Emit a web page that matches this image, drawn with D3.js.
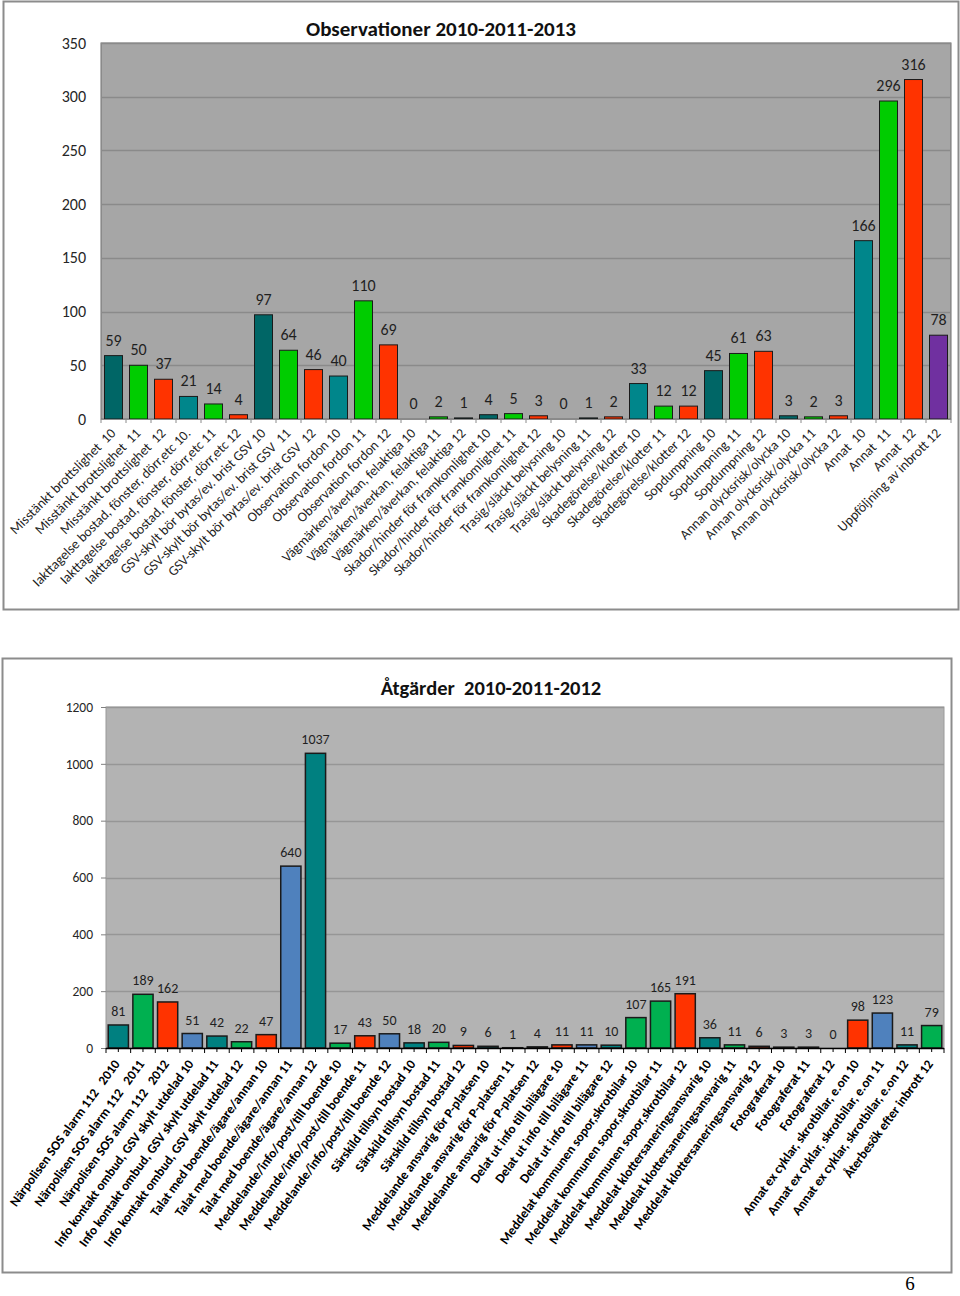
<!DOCTYPE html>
<html>
<head>
<meta charset="utf-8">
<script src="https://cdn.jsdelivr.net/npm/d3@7"></script>
<style>
  html, body { margin: 0; padding: 0; background: #fff; }
  svg { display: block; }
  text { font-family: Carlito, Lato, "Open Sans", sans-serif; white-space: pre; }
</style>
</head>
<body>
<svg id="chart" width="960" height="1296"></svg>
<script>
// ---------- Chart 1: Observationer 2010-2011-2013 ----------
const obsTitle = "Observationer 2010-2011-2013";
const obsCategories = [
  "Misstänkt brottslighet  10", "Misstänkt brottslighet  11", "Misstänkt brottslighet  12",
  "Iakttagelse bostad, fönster, dörr,etc 10.", "Iakttagelse bostad, fönster, dörr,etc 11", "Iakttagelse bostad, fönster, dörr,etc 12",
  "GSV-skylt bör bytas/ev. brist GSV 10", "GSV-skylt bör bytas/ev. brist GSV  11", "GSV-skylt bör bytas/ev. brist GSV  12",
  "Observation fordon 10", "Observation fordon 11", "Observation fordon 12",
  "Vägmärken/åverkan, felaktiga 10", "Vägmärken/åverkan, felaktiga 11", "Vägmärken/åverkan, felaktiga 12",
  "Skador/hinder för framkomlighet 10", "Skador/hinder för framkomlighet 11", "Skador/hinder för framkomlighet 12",
  "Trasig/släckt belysning 10", "Trasig/släckt belysning 11", "Trasig/släckt belysning 12",
  "Skadegörelse/klotter 10", "Skadegörelse/klotter 11", "Skadegörelse/klotter 12",
  "Sopdumpning 10", "Sopdumpning 11", "Sopdumpning 12",
  "Annan olycksrisk/olycka 10", "Annan olycksrisk/olycka 11", "Annan olycksrisk/olycka 12",
  "Annat  10", "Annat  11", "Annat  12",
  "Uppföljning av inbrott 12"
];
const obsValues = [59, 50, 37, 21, 14, 4, 97, 64, 46, 40, 110, 69, 0, 2, 1, 4, 5, 3, 0, 1, 2, 33, 12, 12, 45, 61, 63, 3, 2, 3, 166, 296, 316, 78];
const obsSeries = ["10a","11","12","10b","11","12","10a","11","12","10b","11","12","10a","11","10a","10a","11","12","10a","10a","12","10b","11","12","10a","11","12","10a","11","12","10b","11","12","inbrott"];
const obsTicks = [0, 50, 100, 150, 200, 250, 300, 350];

// ---------- Chart 2: Åtgärder 2010-2011-2012 ----------
const atgTitle = "Åtgärder  2010-2011-2012";
const atgCategories = [
  "Närpolisen SOS alarm 112   2010", "Närpolisen SOS alarm 112   2011", "Närpolisen SOS alarm 112   2012",
  "Info kontakt ombud, GSV skylt utdelad 10", "Info kontakt ombud, GSV skylt utdelad 11", "Info kontakt ombud, GSV skylt utdelad 12",
  "Talat med boende/ägare/annan 10", "Talat med boende/ägare/annan 11", "Talat med boende/ägare/annan 12",
  "Meddelande/info/post/till boende 10", "Meddelande/info/post/till boende 11", "Meddelande/info/post/till boende 12",
  "Särskild tillsyn bostad 10", "Särskild tillsyn bostad 11", "Särskild tillsyn bostad 12",
  "Meddelande ansvarig för P-platsen 10", "Meddelande ansvarig för P-platsen 11", "Meddelande ansvarig för P-platsen 12",
  "Delat ut info till bilägare 10", "Delat ut info till bilägare 11", "Delat ut info till bilägare 12",
  "Meddelat kommunen sopor,skrotbilar 10", "Meddelat kommunen sopor,skrotbilar 11", "Meddelat kommunen sopor,skrotbilar 12",
  "Meddelat klottersaneringsansvarig 10", "Meddelat klottersaneringsansvarig 11", "Meddelat klottersaneringsansvarig 12",
  "Fotograferat 10", "Fotograferat 11", "Fotograferat 12",
  "Annat ex cyklar, skrotbilar, e.on 10", "Annat ex cyklar, skrotbilar, e.on 11", "Annat ex cyklar, skrotbilar, e.on 12",
  "Återbesök efter inbrott 12"
];
const atgValues = [81, 189, 162, 51, 42, 22, 47, 640, 1037, 17, 43, 50, 18, 20, 9, 6, 1, 4, 11, 11, 10, 107, 165, 191, 36, 11, 6, 3, 3, 0, 98, 123, 11, 79];
const atgSeries = ["t","g","r","b","t","g","r","b","t","g","r","b","t","g","r","t","t","t","r","b","t","g","g","r","t","g","r","t","t","t","r","b","t","g"];
const atgTicks = [0, 200, 400, 600, 800, 1000, 1200];

const pageNumber = "6";

// ---------- Drawing ----------
const svg = d3.select("#chart");

function drawChart(cfg) {
  const g = svg.append("g");
  g.append("rect")
    .attr("x", cfg.frame[0] + 0.5).attr("y", cfg.frame[1] + 0.5)
    .attr("width", cfg.frame[2] - cfg.frame[0]).attr("height", cfg.frame[3] - cfg.frame[1])
    .attr("fill", "#fff").attr("stroke", "#8c8c8c").attr("stroke-width", 2);

  const x = d3.scaleBand().domain(d3.range(cfg.values.length))
    .range([cfg.plot.left, cfg.plot.right]).paddingInner(cfg.padding).paddingOuter(cfg.padding / 2);
  const y = d3.scaleLinear().domain([0, cfg.ticks[cfg.ticks.length - 1]])
    .range([cfg.plot.bottom, cfg.plot.top]);
  const step = x.step();

  g.append("rect")
    .attr("x", cfg.plot.left).attr("y", cfg.plot.top)
    .attr("width", cfg.plot.right - cfg.plot.left).attr("height", cfg.plot.bottom - cfg.plot.top)
    .attr("fill", cfg.bg).attr("stroke", cfg.plotBorder).attr("stroke-width", 1);

  g.append("g").selectAll("line").data(cfg.ticks.slice(1)).join("line")
    .attr("x1", cfg.plot.left).attr("x2", cfg.plot.right)
    .attr("y1", d => Math.round(y(d)) + 0.5).attr("y2", d => Math.round(y(d)) + 0.5)
    .attr("stroke", cfg.grid).attr("stroke-width", 1.3);

  const yAxis = d3.axisLeft(y).tickValues(cfg.ticks).tickFormat(d3.format("d"))
    .tickSize(cfg.yTickSize).tickPadding(cfg.yPad);
  const ya = g.append("g").attr("transform", `translate(${cfg.plot.left},0)`).call(yAxis);
  ya.select(".domain").remove();
  ya.selectAll(".tick line").attr("stroke", "#808080");
  ya.selectAll("text").attr("font-size", cfg.yFont).attr("fill", "#262626")
    .attr("font-family", "Carlito, Lato, sans-serif");

  g.append("g").selectAll("rect").data(cfg.values).join("rect")
    .attr("x", (d, i) => x(i))
    .attr("y", d => y(d))
    .attr("width", x.bandwidth())
    .attr("height", d => y(0) - y(d))
    .attr("fill", (d, i) => cfg.color(cfg.series[i]))
    .attr("stroke", d => d > 0 ? "#1a1a1a" : "none")
    .attr("stroke-width", cfg.barStroke);

  g.append("line")
    .attr("x1", cfg.plot.left).attr("x2", cfg.plot.right)
    .attr("y1", cfg.plot.bottom + 0.5).attr("y2", cfg.plot.bottom + 0.5)
    .attr("stroke", cfg.axisColor).attr("stroke-width", cfg.axisWidth);
  const bounds = d3.range(cfg.values.length + 1).map(i => cfg.plot.left + i * step);
  g.append("g").selectAll("line").data(bounds).join("line")
    .attr("x1", d => d).attr("x2", d => d)
    .attr("y1", cfg.plot.bottom).attr("y2", cfg.plot.bottom + cfg.tickLen)
    .attr("stroke", cfg.axisColor).attr("stroke-width", 1);
  if (cfg.minorTicks) {
    g.append("g").selectAll("line").data(cfg.values).join("line")
      .attr("x1", (d, i) => x(i) + x.bandwidth() / 2).attr("x2", (d, i) => x(i) + x.bandwidth() / 2)
      .attr("y1", cfg.plot.bottom).attr("y2", cfg.plot.bottom + cfg.tickLen - 1)
      .attr("stroke", cfg.axisColor).attr("stroke-width", 1);
  }

  g.append("g").selectAll("text").data(cfg.values).join("text")
    .attr("x", (d, i) => x(i) + x.bandwidth() / 2)
    .attr("y", d => y(d) - cfg.labelGap)
    .attr("text-anchor", "middle")
    .attr("font-size", cfg.valueFont)
    .attr("fill", "#1f1f1f")
    .text(d => d);

  g.append("g").selectAll("text").data(cfg.categories).join("text")
    .attr("transform", (d, i) => `translate(${x(i) + x.bandwidth() / 2 + cfg.catDx},${cfg.plot.bottom + cfg.catDy}) rotate(${cfg.catAngle})`)
    .attr("text-anchor", "end")
    .attr("font-size", cfg.catFont)
    .attr("font-weight", cfg.catWeight)
    .attr("fill", cfg.catColor)
    .text(d => d);

  g.append("text")
    .attr("x", cfg.titleX).attr("y", cfg.titleY)
    .attr("text-anchor", "middle")
    .attr("font-size", cfg.titleFont).attr("font-weight", "bold").attr("fill", "#111")
    .text(cfg.title);
}

const obsColor = d3.scaleOrdinal()
  .domain(["10a", "10b", "11", "12", "inbrott"])
  .range(["#006666", "#00868b", "#00cc00", "#ff3300", "#7030a0"]);
const atgColor = d3.scaleOrdinal()
  .domain(["t", "g", "r", "b"])
  .range(["#008080", "#00b050", "#ff3300", "#4f81bd"]);

drawChart({
  title: obsTitle, categories: obsCategories, values: obsValues, series: obsSeries, ticks: obsTicks,
  color: obsColor,
  frame: [3, 1, 958, 609],
  plot: { left: 101, right: 951, top: 43, bottom: 419 },
  padding: 0.28, bg: "#a6a6a6", plotBorder: "#6e6e6e", grid: "#8a8a8a",
  yTickSize: 0, yPad: 15, yFont: 16,
  barStroke: 1, axisColor: "#8a8a8a", axisWidth: 1, tickLen: 4, minorTicks: false,
  labelGap: 10, valueFont: 16,
  catDx: 3, catDy: 15, catAngle: -45, catFont: 13.8, catWeight: "normal", catColor: "#1f1f1f",
  titleX: 441, titleY: 36, titleFont: 21
});

drawChart({
  title: atgTitle, categories: atgCategories, values: atgValues, series: atgSeries, ticks: atgTicks,
  color: atgColor,
  frame: [2, 658, 951, 1272],
  plot: { left: 106, right: 944, top: 707, bottom: 1048 },
  padding: 0.18, bg: "#b3b3b3", plotBorder: "#9a9a9a", grid: "#969696",
  yTickSize: 5, yPad: 8, yFont: 13.5,
  barStroke: 1.5, axisColor: "#000", axisWidth: 1.5, tickLen: 5, minorTicks: true,
  labelGap: 9, valueFont: 14,
  catDx: 2, catDy: 16, catAngle: -54, catFont: 13.2, catWeight: "bold", catColor: "#000",
  titleX: 491, titleY: 695, titleFont: 20.5
});

svg.append("text")
  .attr("x", 910).attr("y", 1290)
  .attr("text-anchor", "middle")
  .style("font-family", "'Liberation Serif', 'DejaVu Serif', serif")
  .attr("font-size", 19).attr("fill", "#000")
  .text(pageNumber);
</script>
</body>
</html>
